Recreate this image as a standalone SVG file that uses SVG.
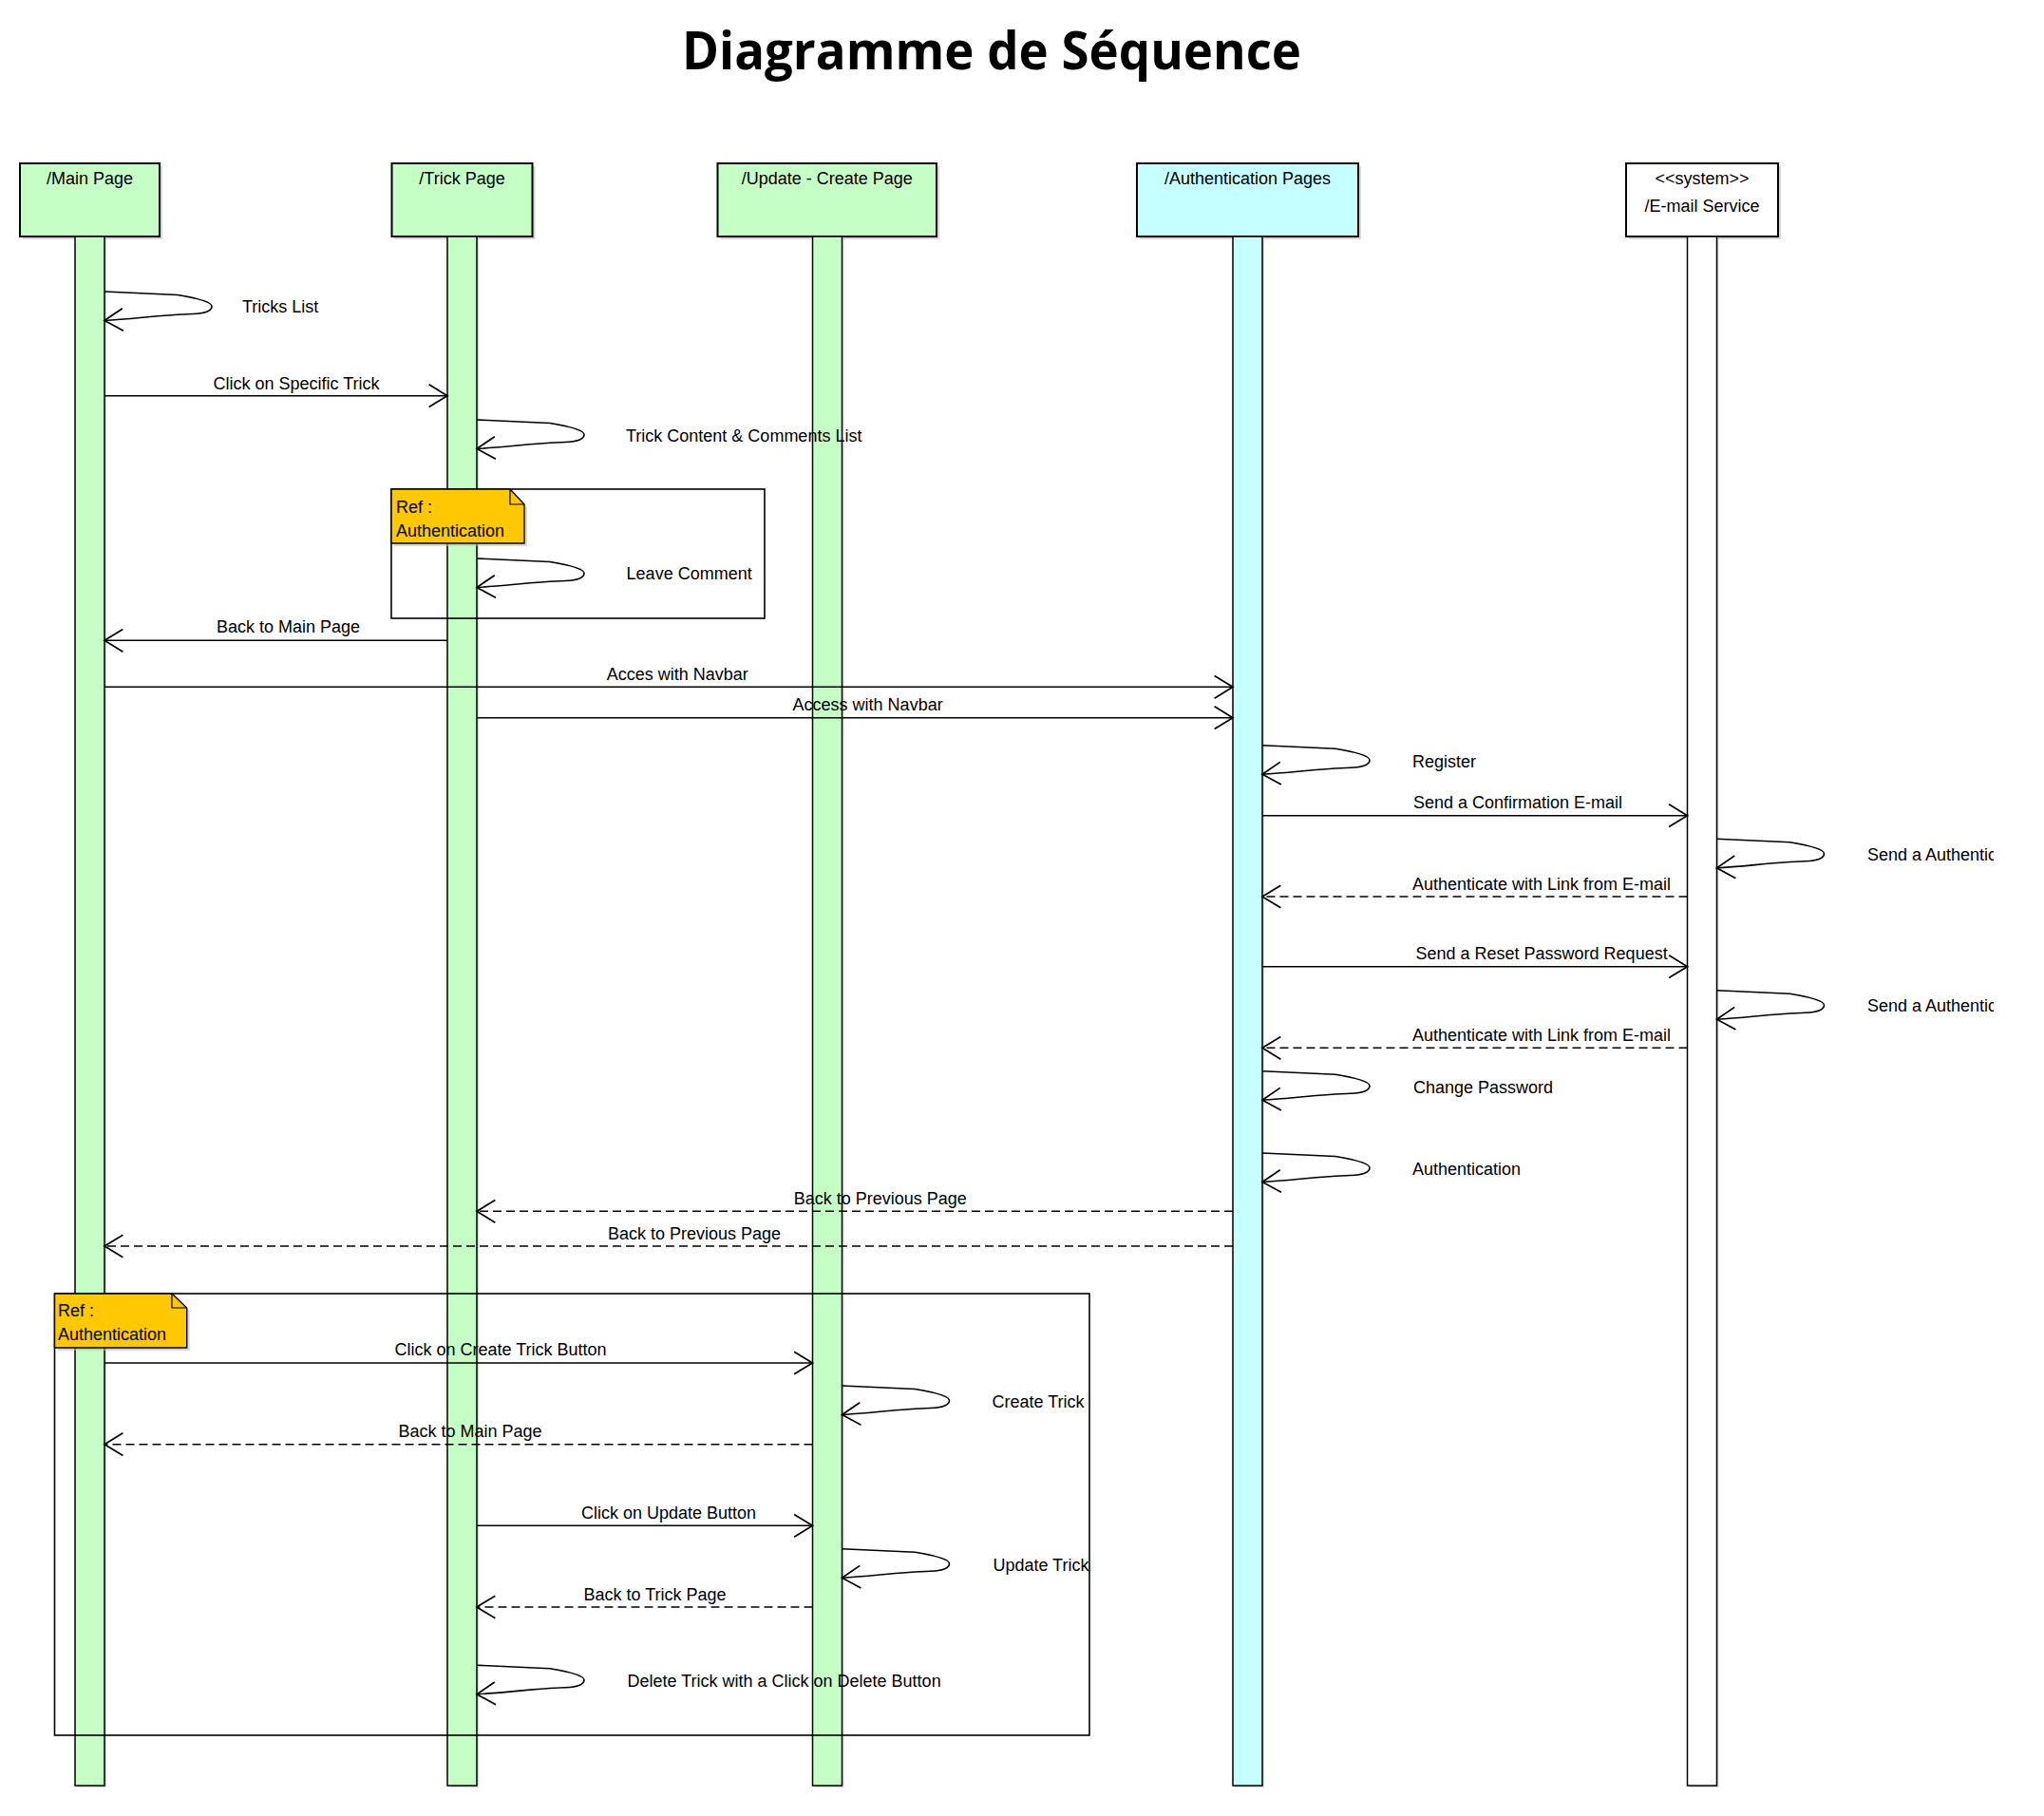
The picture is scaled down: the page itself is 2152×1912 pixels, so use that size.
<svg xmlns="http://www.w3.org/2000/svg" width="2152" height="1912" viewBox="0 0 2152 1912">
<defs>
<style>
.head{stroke:#000;stroke-width:2}
.green{fill:#C6FFC6}
.cyan{fill:#C6FFFF}
.white{fill:#fff}
.shadow{fill:#b8b8b8;opacity:0.55}
.bar{stroke:#000;stroke-width:1.5}
.lbl{font-family:"Liberation Sans",Arial,sans-serif;font-size:18px;fill:#000}
.hlbl{font-family:"Liberation Sans",Arial,sans-serif;font-size:18px;fill:#000;text-anchor:middle}
.msg{fill:none;stroke:#000;stroke-width:1.6;marker-end:url(#arr)}
.ret{fill:none;stroke:#000;stroke-width:1.6;stroke-dasharray:9 5;marker-end:url(#arr)}
.frame{fill:none;stroke:#000;stroke-width:1.6}
.note{fill:#FFC800;stroke:#000;stroke-width:1.4}
.title{font-family:"Open Sans","Noto Sans",sans-serif;font-weight:bold;font-size:56px;fill:#000}
</style>
<marker id="arr" markerUnits="userSpaceOnUse" markerWidth="26" markerHeight="28" viewBox="-20 -13 22 26" refX="0" refY="0" orient="auto">
<path d="M-18,-11 L0,0 L-18,11" fill="none" stroke="#000" stroke-width="1.6"/>
</marker>
<path id="loop" d="M0,0 L77,3.5 C98,7 113,11 113,15.5 C113,20 106,23 93,23.5 C60,24.5 30,29 0,30.5" class="msg"/>
<clipPath id="clipR"><rect x="0" y="0" width="2099" height="1912"/></clipPath>
</defs>
<rect x="0" y="0" width="2152" height="1912" fill="#fff"/>
<text class="title" x="1044" y="73" text-anchor="middle" textLength="652" lengthAdjust="spacingAndGlyphs">Diagramme de Séquence</text>

<g id="main-page">
<rect class="shadow" x="24" y="175" width="147" height="77"/>
<rect class="head green" x="21" y="172" width="147" height="77"/>
<text class="hlbl" x="94.5" y="194">/Main Page</text>
<rect class="shadow" x="81" y="249" width="31" height="1633"/>
<rect class="bar green" x="79" y="249" width="31" height="1631"/>
</g>
<g id="trick-page">
<rect class="shadow" x="415.5" y="175" width="148" height="77"/>
<rect class="head green" x="412.5" y="172" width="148" height="77"/>
<text class="hlbl" x="486.5" y="194">/Trick Page</text>
<rect class="shadow" x="473" y="249" width="31" height="1633"/>
<rect class="bar green" x="471" y="249" width="31" height="1631"/>
</g>
<g id="update-create-page">
<rect class="shadow" x="758.5" y="175" width="230.5" height="77"/>
<rect class="head green" x="755.5" y="172" width="230.5" height="77"/>
<text class="hlbl" x="870.75" y="194">/Update - Create Page</text>
<rect class="shadow" x="857.5" y="249" width="31" height="1633"/>
<rect class="bar green" x="855.5" y="249" width="31" height="1631"/>
</g>
<g id="authentication-pages">
<rect class="shadow" x="1200" y="175" width="233" height="77"/>
<rect class="head cyan" x="1197" y="172" width="233" height="77"/>
<text class="hlbl" x="1313.5" y="194">/Authentication Pages</text>
<rect class="shadow" x="1300" y="249" width="31" height="1633"/>
<rect class="bar cyan" x="1298" y="249" width="31" height="1631"/>
</g>
<g id="email-service">
<rect class="shadow" x="1715" y="175" width="160" height="77"/>
<rect class="head white" x="1712" y="172" width="160" height="77"/>
<text class="hlbl" x="1792" y="194">&lt;&lt;system&gt;&gt;</text>
<text class="hlbl" x="1792" y="223">/E-mail Service</text>
<rect class="shadow" x="1778.5" y="249" width="31" height="1633"/>
<rect class="bar white" x="1776.5" y="249" width="31" height="1631"/>
</g>

<g id="frame-1">
<rect class="frame" x="412" y="515" width="393" height="136"/>
</g>
<g id="frame-2">
<rect class="frame" x="57.5" y="1362" width="1089.5" height="465"/>
</g>

<g id="connectors">
<use href="#loop" x="110" y="307"/>
<text class="lbl" x="255" y="329">Tricks List</text>

<path class="msg" d="M110,416.7 L471,416.7"/>
<text class="lbl" x="224.5" y="410">Click on Specific Trick</text>

<use href="#loop" x="502" y="442"/>
<text class="lbl" x="659" y="465">Trick Content &amp; Comments List</text>

<use href="#loop" x="502" y="588"/>
<text class="lbl" x="659.6" y="610">Leave Comment</text>

<path class="msg" d="M471,674.3 L110,674.3"/>
<text class="lbl" x="228" y="666">Back to Main Page</text>

<path class="msg" d="M110,723.3 L1298,723.3"/>
<text class="lbl" x="638.7" y="716">Acces with Navbar</text>

<path class="msg" d="M502,755.7 L1298,755.7"/>
<text class="lbl" x="834.6" y="748">Access with Navbar</text>

<use href="#loop" x="1329" y="784.7"/>
<text class="lbl" x="1487" y="808">Register</text>

<path class="msg" d="M1329,858.7 L1776.5,858.7"/>
<text class="lbl" x="1488" y="851">Send a Confirmation E-mail</text>

<use href="#loop" x="1807.5" y="883.3"/>
<text class="lbl" x="1966" y="906" clip-path="url(#clipR)">Send a Authentic</text>

<path class="ret" d="M1776.5,944 L1329,944"/>
<text class="lbl" x="1487" y="937">Authenticate with Link from E-mail</text>

<path class="msg" d="M1329,1017.7 L1776.5,1017.7"/>
<text class="lbl" x="1490.5" y="1010">Send a Reset Password Request</text>

<use href="#loop" x="1807.5" y="1042.7"/>
<text class="lbl" x="1966" y="1065" clip-path="url(#clipR)">Send a Authentic</text>

<path class="ret" d="M1776.5,1103.3 L1329,1103.3"/>
<text class="lbl" x="1487" y="1096">Authenticate with Link from E-mail</text>

<use href="#loop" x="1329" y="1127.7"/>
<text class="lbl" x="1488" y="1151">Change Password</text>

<use href="#loop" x="1329" y="1214"/>
<text class="lbl" x="1487" y="1237">Authentication</text>

<path class="ret" d="M1298,1275.3 L502,1275.3"/>
<text class="lbl" x="835.7" y="1268">Back to Previous Page</text>

<path class="ret" d="M1298,1312 L110,1312"/>
<text class="lbl" x="640" y="1305">Back to Previous Page</text>

<path class="msg" d="M110,1435 L855.5,1435"/>
<text class="lbl" x="415.5" y="1427">Click on Create Trick Button</text>

<use href="#loop" x="886.5" y="1459"/>
<text class="lbl" x="1044.6" y="1482">Create Trick</text>

<path class="ret" d="M855.5,1520.7 L110,1520.7"/>
<text class="lbl" x="419.4" y="1513">Back to Main Page</text>

<path class="msg" d="M502,1606.3 L855.5,1606.3"/>
<text class="lbl" x="612" y="1599">Click on Update Button</text>

<use href="#loop" x="886.5" y="1630.7"/>
<text class="lbl" x="1045.4" y="1654">Update Trick</text>

<path class="ret" d="M855.5,1692 L502,1692"/>
<text class="lbl" x="614.5" y="1685">Back to Trick Page</text>

<use href="#loop" x="502" y="1753.3"/>
<text class="lbl" x="660.5" y="1776">Delete Trick with a Click on Delete Button</text>
</g>

<g id="note-1">
<path class="shadow" d="M415,518 L540,518 L555,534 L555,575 L415,575 Z"/>
<path class="note" d="M412,515 L537,515 L552,531 L552,572 L412,572 Z"/>
<path d="M537,515 L537,531 L552,531" fill="none" stroke="#000" stroke-width="1.2"/>
<text class="lbl" x="417" y="540">Ref :</text>
<text class="lbl" x="417" y="565">Authentication</text>
</g>
<g id="note-2">
<path class="shadow" d="M60.5,1365 L184,1365 L199.7,1380 L199.7,1422 L60.5,1422 Z"/>
<path class="note" d="M57.5,1362 L181,1362 L196.7,1377 L196.7,1419 L57.5,1419 Z"/>
<path d="M181,1362 L181,1377 L196.7,1377" fill="none" stroke="#000" stroke-width="1.2"/>
<text class="lbl" x="61" y="1386">Ref :</text>
<text class="lbl" x="61" y="1411">Authentication</text>
</g>
</svg>
